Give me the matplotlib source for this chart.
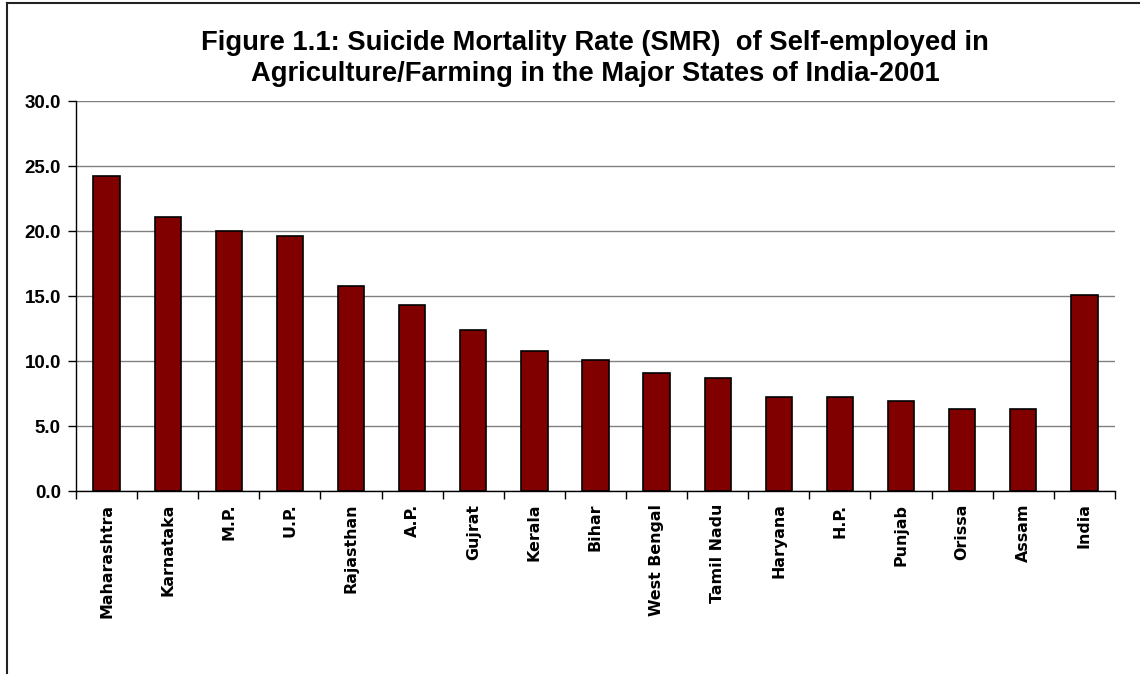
import matplotlib.pyplot as plt
from matplotlib.lines import Line2D

states = ['Maharashtra', 'Karnataka', 'M.P.', 'U.P.', 'Rajasthan', 'A.P.', 'Gujrat',
          'Kerala', 'Bihar', 'West Bengal', 'Tamil Nadu', 'Haryana', 'H.P.', 'Punjab',
          'Orissa', 'Assam', 'India']
smr = [24.2, 21.1, 20.0, 19.6, 15.8, 14.3, 12.4, 10.8, 10.1, 9.1, 8.7, 7.2, 7.2, 6.9,
       6.3, 6.3, 15.1]
yticks = [0, 5, 10, 15, 20, 25, 30]

fig = plt.figure(figsize=(11.4, 6.74), dpi=100)
ax = fig.add_axes([0.0667, 0.2715, 0.9113, 0.5785])

x = list(range(len(states)))
ax.bar(x, smr, width=0.43, color='#800000', edgecolor='black', linewidth=1.2, zorder=3)

ax.set_xlim(-0.5, len(states) - 0.5)
ax.set_ylim(0, 30)
ax.set_yticks(yticks)
ax.set_yticklabels(['%.1f' % v for v in yticks], fontsize=13.5, fontweight='bold',
                   family='Liberation Sans')
ax.yaxis.grid(True, color='#808080', linewidth=1, zorder=0)

# category labels at centres, tick marks at category boundaries
ax.set_xticks(x)
ax.set_xticklabels(states, rotation=90, fontsize=11.4, fontweight='heavy',
                   family='DejaVu Sans')
ax.tick_params(axis='x', which='major', length=0, pad=9)
ax.set_xticks([i - 0.5 for i in range(len(states) + 1)], minor=True)
ax.tick_params(axis='x', which='minor', length=6, width=1, direction='out')
ax.tick_params(axis='y', length=6, width=1, direction='out', pad=5)

for side in ['top', 'right']:
    ax.spines[side].set_visible(False)
for side in ['left', 'bottom']:
    ax.spines[side].set_linewidth(1)

fig.text(0.522, 0.955,
         'Figure 1.1: Suicide Mortality Rate (SMR)  of Self-employed in\n'
         'Agriculture/Farming in the Major States of India-2001',
         ha='center', va='top', fontsize=19.7, fontweight='bold',
         family='Liberation Sans', linespacing=1.22)

# outer frame (left and top edges visible)
fig.add_artist(Line2D([0.0065, 0.0065], [0, 0.995], color='#222222', lw=1.5,
                      transform=fig.transFigure))
fig.add_artist(Line2D([0.0065, 1], [0.995, 0.995], color='#222222', lw=1.5,
                      transform=fig.transFigure))

fig.savefig('out.png', dpi=100)
